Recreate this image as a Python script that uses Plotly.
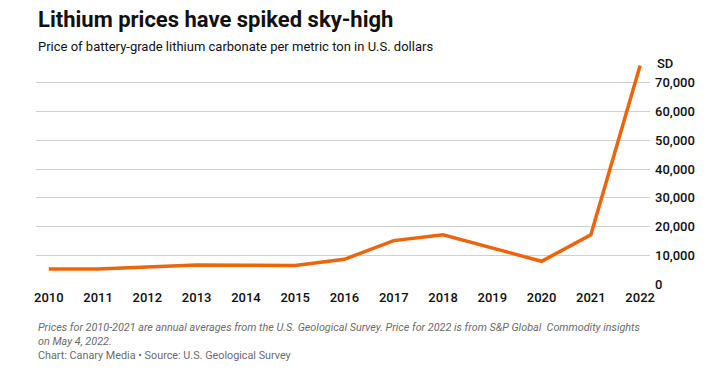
import plotly.graph_objects as go

years = [2010, 2011, 2012, 2013, 2014, 2015, 2016, 2017, 2018, 2019, 2020, 2021, 2022]
prices = [5200, 5200, 5900, 6600, 6500, 6400, 8600, 15100, 17100, 12400, 7900, 17100, 76000]
y_ticks = [0, 10000, 20000, 30000, 40000, 50000, 60000, 70000]
y_tick_labels = ["0", "10,000", "20,000", "30,000", "40,000", "50,000", "60,000", "70,000"]

title = "Lithium prices have spiked sky-high"
subtitle = "Price of battery-grade lithium carbonate per metric ton in U.S. dollars"
note1 = "Prices for 2010-2021 are annual averages from the U.S. Geological Survey. Price for 2022 is from S&P Global  Commodity insights"
note2 = "on May 4, 2022."
source = "Chart: Canary Media • Source: U.S. Geological Survey"

# page body has an 8px margin; figure coordinates = screen coordinates - 8
OFF = 8
W, H = 710, 356
ML, MT = 36 - OFF, 54 - OFF
MR = W - (650 - OFF)
MB = H - (284 - OFF)
font = "Roboto, Arial, sans-serif"
tickfont = dict(size=13, color="#111111", family="Roboto Medium, Roboto, sans-serif")

fig = go.Figure()
fig.add_trace(go.Scatter(x=years, y=prices, mode="lines",
                         line=dict(color="#EB650C", width=3.5), hoverinfo="x+y"))

fig.update_layout(
    width=W, height=H,
    margin=dict(l=ML, r=MR, t=MT, b=MB, autoexpand=False),
    paper_bgcolor="white", plot_bgcolor="white",
    showlegend=False,
    font=dict(family=font, color="#111111"),
    xaxis=dict(range=[2009.74, 2022.2], tickvals=years, ticktext=[str(y) for y in years],
               showgrid=False, zeroline=False, showline=False, ticks="",
               ticklabelstandoff=4,
               tickfont=tickfont, automargin=False, fixedrange=True),
    yaxis=dict(range=[0, 80000], side="right", tickvals=y_ticks, ticktext=y_tick_labels,
               showgrid=True, gridcolor="#cfcfcf", gridwidth=1, zeroline=False,
               showline=False, ticks="", ticklabelstandoff=4,
               tickfont=tickfont, automargin=False, fixedrange=True),
)

plot_w = W - ML - MR
plot_h = H - MT - MB
# (text, screen x of left edge, screen y of text centre, font)
texts = [
    ("<b>" + title + "</b>", 36, 20, dict(size=22, color="#111111", family=font)),
    (subtitle, 36, 47, dict(size=13, color="#111111", family=font)),
    ("<i>" + note1 + "</i>", 36, 327, dict(size=10.8, color="#6b6b6b", family=font)),
    ("<i>" + note2 + "</i>", 36, 341, dict(size=10.8, color="#6b6b6b", family=font)),
    (source, 36, 355, dict(size=10.8, color="#6b6b6b", family=font)),
    ("SD", 655, 63, tickfont),
]
for txt, px, py, f in texts:
    fx = px - OFF
    fy = H - (py - OFF)
    fig.add_annotation(text=txt, x=(fx - ML) / plot_w, y=(fy - MB) / plot_h,
                       xref="paper", yref="paper", showarrow=False,
                       xanchor="left", yanchor="middle", font=f)

fig.write_html("out.html")
